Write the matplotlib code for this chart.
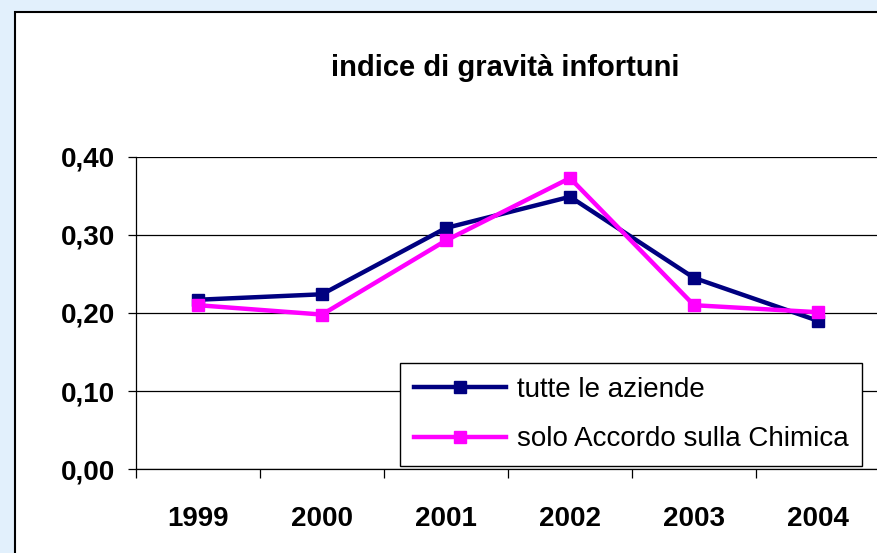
import matplotlib.pyplot as plt
from matplotlib.patches import Rectangle
from matplotlib.ticker import FixedLocator, FuncFormatter

# Data
years = ["1999", "2000", "2001", "2002", "2003", "2004"]
tutte_le_aziende = [0.217, 0.224, 0.309, 0.349, 0.245, 0.190]
solo_chimica = [0.210, 0.198, 0.293, 0.373, 0.210, 0.201]
series_labels = ["tutte le aziende", "solo Accordo sulla Chimica"]

plt.rcParams['font.family'] = ['Liberation Sans', 'DejaVu Sans']

fig = plt.figure(figsize=(8.78, 5.53), dpi=100)
fig.patch.set_facecolor('#e2f0fc')

# White chart panel with black border (cropped right and bottom)
panel = Rectangle((15 / 878, -0.05), 1.0, 1 - 12 / 553 + 0.05,
                  transform=fig.transFigure, facecolor='white',
                  edgecolor='black', linewidth=1.5, zorder=-10)
fig.patches.append(panel)

ax = fig.add_axes([136 / 878, 1 - 469 / 553, 744 / 878, 312 / 553])
ax.set_facecolor('none')

x = list(range(len(years)))
ax.plot(x, tutte_le_aziende, color='#000080', linewidth=3.2, marker='s',
        markersize=8, label=series_labels[0], zorder=3)
ax.plot(x, solo_chimica, color='#ff00ff', linewidth=3.2, marker='s',
        markersize=8, label=series_labels[1], zorder=4)

ax.set_xlim(-0.5, len(years) - 0.5)
ax.set_ylim(0, 0.40)

# y axis
ax.set_yticks([0, 0.1, 0.2, 0.3, 0.4])
ax.yaxis.set_major_formatter(FuncFormatter(lambda v, p: f"{v:.2f}".replace('.', ',')))
ax.grid(axis='y', color='black', linewidth=0.9)
ax.tick_params(axis='y', length=6, width=0.9, pad=9, labelsize=20)

# x axis: labels centered, ticks between categories
ax.set_xticks(x)
ax.set_xticklabels(years)
ax.tick_params(axis='x', which='major', length=0, pad=27, labelsize=20)
ax.xaxis.set_minor_locator(FixedLocator([i - 0.5 for i in range(len(years) + 1)]))
ax.tick_params(axis='x', which='minor', length=6.5, width=0.9)
for lbl in ax.get_xticklabels() + ax.get_yticklabels():
    lbl.set_fontweight('bold')

for side in ['top', 'right']:
    ax.spines[side].set_visible(False)
ax.spines['left'].set_linewidth(0.9)
ax.spines['bottom'].set_linewidth(0.9)

fig.text(505 / 878, 1 - 68 / 553, "indice di gravità infortuni",
         ha='center', va='center', fontsize=21, fontweight='bold')

leg = ax.legend(loc='upper left', bbox_to_anchor=(0.355, 0.34),
                borderaxespad=0, fontsize=20, handlelength=3.3,
                handletextpad=0.4, labelspacing=0.85, fancybox=False,
                framealpha=1, edgecolor='black', borderpad=0.5)
leg.get_frame().set_linewidth(1.0)

fig.savefig("out.png", dpi=100)
